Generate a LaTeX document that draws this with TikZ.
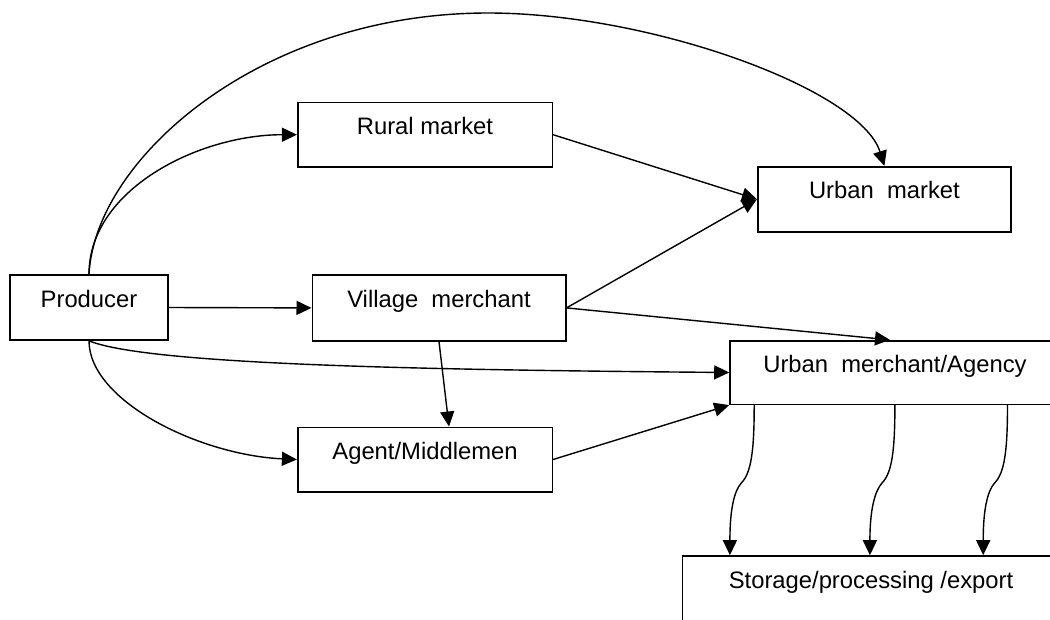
\documentclass[tikz,border=0pt]{standalone}
\usepackage{fontspec}
\setmainfont{Liberation Sans}
\usetikzlibrary{arrows.meta,calc}
\begin{document}
\begin{tikzpicture}
[x=1pt,y=-1pt,
  boxdecorate/.style={shape=rectangle,draw,line width=1.6pt,inner sep=0pt,
    text height=17pt,text depth=17.5pt,font=\fontsize{23.8}{28}\selectfont},
  linedecorate/.style={-{Triangle[length=15pt,width=14pt]},line width=1.4pt}]
\useasboundingbox (0,0) rectangle (1050,619);
\clip (0,0) rectangle (1050,619);
%% boxes
\foreach \nodename/\x/\y/\w/\h/\txt in {prod/89/307.5/158/65/Producer,
  rural/425/134.7/254.6/64.5/{Rural market},
  umkt/884.4/199.2/253.3/65/{Urban\ \ market},
  vill/439/307.9/253.4/65.7/{Village\ \ merchant},
  umer/895/372.5/330/63.6/{Urban\ \ merchant/Agency},
  agent/425/459.5/254.6/64.4/{Agent/Middlemen},
  store/871/588.5/377.4/65/{Storage/processing /export}}
{
  \node (\nodename) at (\x,\y) [boxdecorate,minimum width=\w pt,minimum height=\h pt] {\txt};
}
\coordinate (peak) at (488,13);
%% connectors
\draw[linedecorate] (prod.east) -- (vill.west);
\draw[linedecorate] (rural.east) -- (umkt.west);
\draw[linedecorate] (vill.east) -- (umkt.west);
\draw[linedecorate] (vill.east) -- ([xshift=-5pt]umer.north);
\draw[linedecorate] (vill.south) -- ([xshift=24pt]agent.north);
\draw[linedecorate] (agent.east) -- (umer.south west);
\draw[linedecorate] (prod.north) .. controls +(0,-85) and +(-97.7,0) .. (rural.west);
\draw[linedecorate] (prod.north) .. controls +(6,-115) and +(-228,0) .. (peak)
  .. controls +(162,0) and +(-24,-76.7) .. (umkt.north);
\draw[linedecorate] (prod.south) .. controls +(0,60) and +(-97.7,-4.5) .. (agent.west);
\draw[linedecorate] (prod.south) .. controls +(61,25) and +(-280,-2.5) .. (umer.west);
\foreach \n/\a/\b in {1/25/48.4, 2/165.7/188.4, 3/278.3/301.7}
{
  \coordinate (s\n) at ([xshift=\a pt]umer.south west);
  \coordinate (e\n) at ([xshift=\b pt]store.north west);
  \coordinate (k\n) at ($(s\n)+(-13,78)$);
  \draw[linedecorate] (s\n) .. controls +(0,46) and +(10,-10) .. (k\n)
    .. controls +(-7,8) and +(0,-46) .. (e\n);
}
\end{tikzpicture}
\end{document}
